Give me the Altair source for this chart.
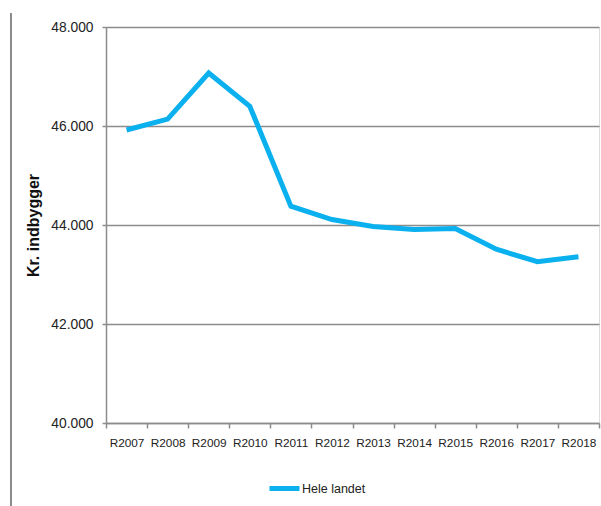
import altair as alt
import pandas as pd

years = ["R2007", "R2008", "R2009", "R2010", "R2011", "R2012",
         "R2013", "R2014", "R2015", "R2016", "R2017", "R2018"]
values = [45920, 46140, 47070, 46400, 44380, 44110,
          43970, 43910, 43930, 43510, 43260, 43360]
series = ["Hele landet"] * len(years)
y_ticks = [40000, 42000, 44000, 46000, 48000]

df = pd.DataFrame({"year": years, "value": values, "series": series})

FONT = "Liberation Sans"
W, H = 493, 396

line = alt.Chart(df).mark_line(strokeWidth=5, color="#0BB0EE").encode(
    x=alt.X("year:N", sort=years, title=None,
            scale=alt.Scale(paddingInner=0, paddingOuter=0),
            axis=alt.Axis(labelAngle=0, labelFont=FONT, labelFontSize=11.8,
                          labelColor="#222", domainColor="#8c8c8c",
                          domainWidth=1.5, tickColor="#8c8c8c", tickWidth=1.5,
                          tickSize=5, tickBand="extent", labelPadding=9,
                          grid=False)),
    y=alt.Y("value:Q", title="Kr. indbygger",
            scale=alt.Scale(domain=[40000, 48000], nice=False, zero=False),
            axis=alt.Axis(values=y_ticks,
                          labelExpr="replace(format(datum.value, ',.0f'), ',', '.')",
                          labelFont=FONT, labelFontSize=13.8, labelColor="#222",
                          labelPadding=9, tickSize=4, tickColor="#8c8c8c",
                          tickWidth=1.5, domainColor="#8c8c8c", domainWidth=1.5,
                          grid=True, gridColor="#8c8c8c", gridWidth=1.5,
                          titleFont="Liberation Sans", titleFontSize=16,
                          titleFontWeight="bold", titleColor="#111",
                          titlePadding=9)),
    color=alt.Color("series:N", scale=alt.Scale(range=["#0BB0EE"]), title=None,
                    legend=alt.Legend(orient="none", legendX=161, legendY=444,
                                      symbolType="stroke", symbolStrokeWidth=5,
                                      symbolSize=900, labelFont=FONT,
                                      labelFontSize=12.5, labelColor="#222",
                                      labelOffset=0)),
)

frame = alt.Chart(df).mark_rule(color="#8c8c8c", strokeWidth=1.5).encode(
    x=alt.value(-95), y=alt.value(-14), y2=alt.value(H + 83)
)

chart = alt.layer(frame, line).properties(
    width=W, height=H,
    autosize=alt.AutoSizeParams(type="none"),
    padding={"left": 106, "top": 27, "right": 2, "bottom": 83},
).configure_view(stroke=None).configure(background="white")

chart.save("out.html", embed_options={"renderer": "svg", "actions": False})
